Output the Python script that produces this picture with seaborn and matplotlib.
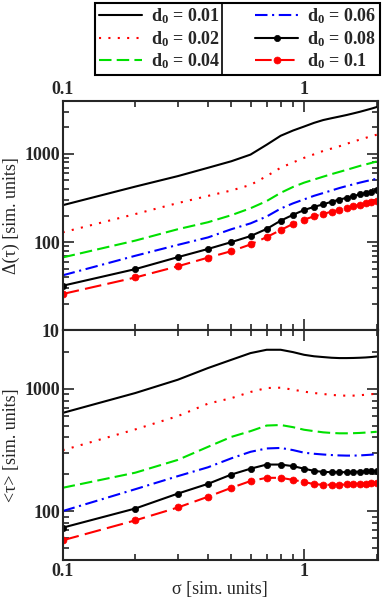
import matplotlib
matplotlib.use("Agg")
import pandas as pd
import matplotlib.pyplot as plt
import seaborn as sns
from matplotlib.ticker import LogLocator, FuncFormatter, NullFormatter
from matplotlib.lines import Line2D

# sigma grid [sim. units]
sigma = [0.1, 0.2, 0.3, 0.4, 0.5, 0.6, 0.7, 0.8, 0.9, 1.0,
         1.1, 1.2, 1.3, 1.4, 1.5, 1.6, 1.7, 1.8, 1.9, 2.0]
d0_values = ["0.01", "0.02", "0.04", "0.06", "0.08", "0.1"]

# Delta(tau), top panel
delta_001 = [262, 426, 560, 696, 826, 982, 1271, 1606, 1841, 2043,
             2250, 2420, 2540, 2650, 2760, 2880, 3000, 3130, 3260, 3400]
delta_002 = [129, 208, 277, 334, 385, 445, 560, 697, 800, 902,
             990, 1080, 1150, 1220, 1300, 1380, 1450, 1520, 1590, 1650]
delta_004 = [67, 104, 140, 168, 202, 242, 292, 362, 422, 472,
             512, 552, 590, 625, 660, 695, 730, 760, 790, 820]
delta_006 = [42, 70, 93, 113, 140, 163, 195, 240, 275, 305,
             335, 360, 385, 410, 432, 452, 472, 490, 507, 522]
delta_008 = [32, 49.4, 67.5, 83.6, 100, 117, 141, 175, 204, 231,
             251, 268, 287, 303, 318, 333, 347, 360, 374, 388]
delta_010 = [25.8, 39.7, 53.2, 66.7, 79, 94, 114, 137, 161, 180,
             196, 209, 221, 233, 244, 255, 265, 275, 284, 293]

# <tau>, bottom panel
tau_001 = [634, 922, 1184, 1475, 1723, 1954, 2080, 2080, 1990, 1892,
           1840, 1813, 1790, 1779, 1779, 1783, 1790, 1800, 1815, 1834]
tau_002 = [314, 465, 597, 755, 837, 940, 1013, 1019, 982, 946,
           922, 905, 890, 880, 877, 878, 884, 893, 902, 910]
tau_004 = [155, 206, 262, 335, 404, 450, 500, 505, 485, 462,
           450, 440, 435, 432, 432, 433, 435, 438, 441, 445]
tau_006 = [100, 151, 193, 228, 270, 305, 325, 328, 315, 300,
           294, 290, 287, 285, 284, 284, 285, 287, 289, 292]
tau_008 = [73.2, 105, 139, 167, 199, 222, 240, 240, 233, 222,
           213, 209, 208, 208, 208, 209, 210, 211, 212, 214]
tau_010 = [57.7, 84, 107, 131, 155, 176, 187, 187, 180, 173,
           166, 164, 164, 164, 165, 166, 167, 168, 169, 170]

delta_all = [delta_001, delta_002, delta_004, delta_006, delta_008, delta_010]
tau_all = [tau_001, tau_002, tau_004, tau_006, tau_008, tau_010]

rows = []
for d0, dl, tl in zip(d0_values, delta_all, tau_all):
    for s, a, b in zip(sigma, dl, tl):
        rows.append({"sigma": s, "d0": d0, "delta": a, "tau": b})
df = pd.DataFrame(rows)

# line styles per d0
styles = {
    "0.01": dict(color="black", linestyle="-", marker=None),
    "0.02": dict(color="#ff0000", linestyle=(0, (1, 3.5)), marker=None),
    "0.04": dict(color="#00e000", linestyle=(0, (6, 2.5)), marker=None),
    "0.06": dict(color="#0000ff", linestyle=(0, (6, 2.2, 1, 2.2)), marker=None),
    "0.08": dict(color="black", linestyle="-", marker="o", markersize=4.5),
    "0.1": dict(color="#ff0000", linestyle=(0, (8, 3)), marker="o", markersize=5),
}

sns.set_style("ticks")
plt.rcParams["font.family"] = ["Liberation Serif", "DejaVu Serif"]
plt.rcParams["mathtext.fontset"] = "custom"
plt.rcParams["mathtext.rm"] = "Liberation Serif"
plt.rcParams["mathtext.bf"] = "Liberation Serif:bold"
plt.rcParams["axes.linewidth"] = 1.5

fig, (ax1, ax2) = plt.subplots(2, 1, figsize=(3.82, 6.0), dpi=100, sharex=True)
fig.subplots_adjust(left=0.164, right=0.989, top=0.832, bottom=0.067, hspace=0)

for d0 in d0_values:
    sub = df[df["d0"] == d0]
    st = dict(styles[d0])
    kw = dict(color=st["color"], linestyle=st["linestyle"], linewidth=1.5,
              errorbar=None, estimator=None)
    if st["marker"]:
        kw.update(marker="o", markersize=st["markersize"],
                  markeredgecolor=st["color"], markerfacecolor=st["color"],
                  markeredgewidth=0.5)
    sns.lineplot(data=sub, x="sigma", y="delta", ax=ax1, **kw)
    sns.lineplot(data=sub, x="sigma", y="tau", ax=ax2, **kw)

fmt = FuncFormatter(lambda v, _: f"{v:g}")
for ax in (ax1, ax2):
    ax.set_xscale("log")
    ax.set_yscale("log")
    ax.set_xlim(0.1, 2.02)
    ax.xaxis.set_major_locator(LogLocator(base=10))
    ax.xaxis.set_minor_locator(LogLocator(base=10, subs=range(2, 10)))
    ax.yaxis.set_minor_locator(LogLocator(base=10, subs=range(2, 10)))
    ax.xaxis.set_major_formatter(fmt)
    ax.yaxis.set_major_formatter(fmt)
    ax.xaxis.set_minor_formatter(NullFormatter())
    ax.yaxis.set_minor_formatter(NullFormatter())
    ax.tick_params(which="both", direction="in", top=True, bottom=True,
                   left=True, right=True, width=1.2)
    ax.tick_params(which="major", length=8, labelsize=13, pad=2)
    ax.tick_params(which="minor", length=4.5)
    for lbl in ax.get_xticklabels() + ax.get_yticklabels():
        lbl.set_fontweight("bold")
    for sp in ax.spines.values():
        sp.set_linewidth(1.5)

ax1.set_ylim(10, 4000)
ax2.set_ylim(40, 3000)
ax1.tick_params(labeltop=True, labelbottom=False)
for lbl in ax1.get_xticklabels(which="major"):
    lbl.set_fontweight("bold")
ax1.set_xlabel("")
ax1.set_ylabel("Δ(τ) [sim. units]", fontsize=13, labelpad=3)
ax2.set_ylabel("<τ> [sim. units]", fontsize=13, labelpad=3)
ax2.set_xlabel("σ [sim. units]", fontsize=13, labelpad=1)

handles = ax1.get_lines()
labels = [r"$\mathbf{d_0}$ = " + d for d in d0_values]
leg = fig.legend(handles, labels, ncol=2, loc="upper left",
                 bbox_to_anchor=(95 / 382, 1 - 77 / 600, 285 / 382, 74 / 600),
                 mode="expand", borderaxespad=0, fancybox=False,
                 framealpha=1, edgecolor="black", handlelength=2.4,
                 handletextpad=0.5, labelspacing=0.15, borderpad=0.2,
                 columnspacing=0.8,
                 prop={"family": "Liberation Serif", "weight": "bold", "size": 13})
leg.get_frame().set_linewidth(1.5)

fig.canvas.draw()
bb = leg.get_window_extent().transformed(fig.transFigure.inverted())
xdiv = 222 / 382
fig.add_artist(Line2D([xdiv, xdiv], [bb.y0, bb.y1], transform=fig.transFigure,
                      color="black", linewidth=1.2, zorder=10))

fig.savefig("out.png", dpi=100)
